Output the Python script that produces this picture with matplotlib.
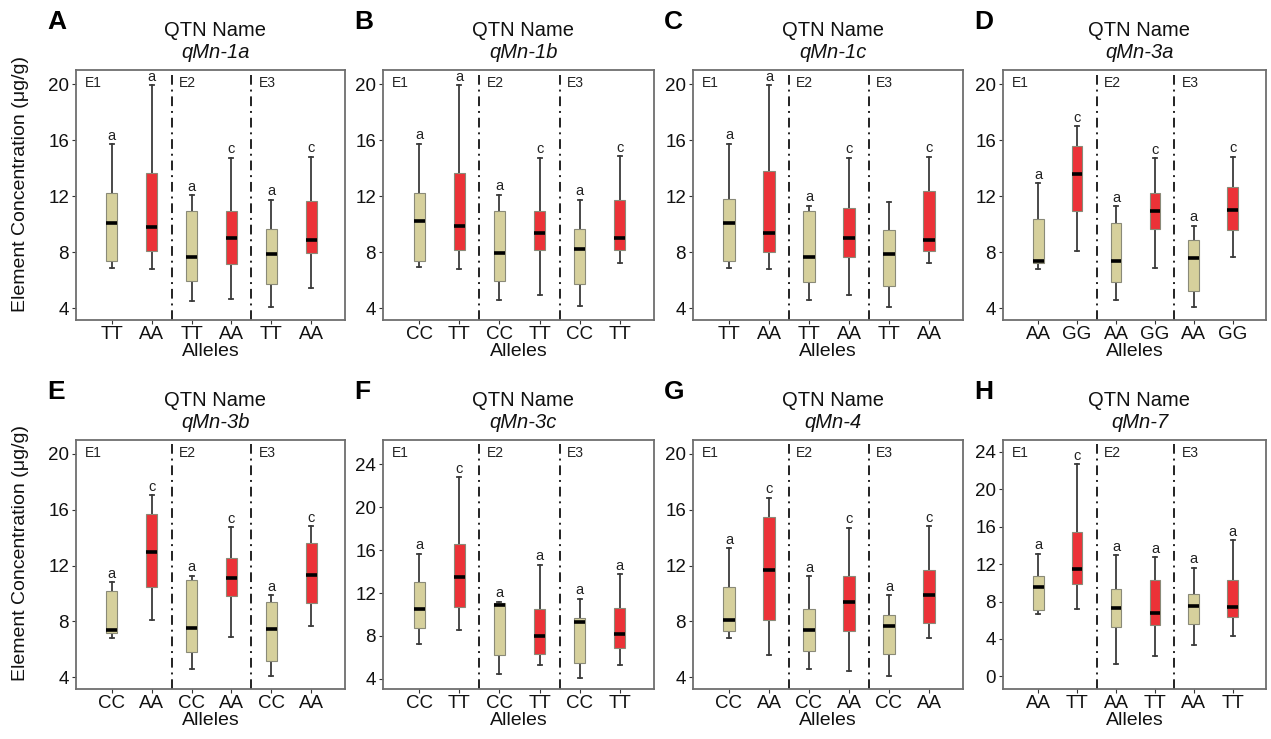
import matplotlib
matplotlib.use("Agg")
import matplotlib.pyplot as plt

plt.rcParams['font.family'] = ['Liberation Sans', 'DejaVu Sans']

# ---------------- data ----------------
panel_ids = ['A', 'B', 'C', 'D', 'E', 'F', 'G', 'H']
qtn_names = ['qMn-1a', 'qMn-1b', 'qMn-1c', 'qMn-3a',
             'qMn-3b', 'qMn-3c', 'qMn-4', 'qMn-7']
allele_pairs = [['TT', 'AA'], ['CC', 'TT'], ['TT', 'AA'], ['AA', 'GG'],
                ['CC', 'AA'], ['CC', 'TT'], ['CC', 'AA'], ['AA', 'TT']]
environments = ['E1', 'E2', 'E3']

# each box: (lower whisker, Q1, median, Q3, upper whisker), order E1a,E1b,E2a,E2b,E3a,E3b
stats_A = [(6.87, 7.35, 10.07, 12.2, 15.7), (6.78, 8.07, 9.79, 13.65, 19.9),
           (4.53, 5.9, 7.64, 10.9, 12.05), (4.65, 7.16, 8.97, 10.9, 14.75),
           (4.1, 5.7, 7.88, 9.62, 11.74), (5.44, 7.92, 8.88, 11.65, 14.8)]
stats_B = [(6.92, 7.35, 10.19, 12.2, 15.75), (6.8, 8.16, 9.83, 13.68, 19.9),
           (4.6, 5.9, 7.92, 10.93, 12.1), (4.9, 8.16, 9.38, 10.93, 14.75),
           (4.15, 5.73, 8.23, 9.67, 11.74), (7.2, 8.16, 9.02, 11.7, 14.84)]
stats_C = [(6.87, 7.35, 10.07, 11.8, 15.75), (6.78, 7.97, 9.36, 13.8, 19.9),
           (4.58, 5.85, 7.64, 10.9, 11.3), (4.9, 7.64, 8.97, 11.12, 14.75),
           (4.1, 5.56, 7.88, 9.55, 11.55), (7.2, 8.07, 8.88, 12.34, 14.8)]
stats_D = [(6.78, 7.23, 7.35, 10.33, 12.9), (8.11, 10.9, 13.6, 15.58, 17.0),
           (4.58, 5.85, 7.35, 10.1, 11.26), (6.87, 9.67, 10.93, 12.24, 14.7),
           (4.1, 5.25, 7.61, 8.88, 9.88), (7.68, 9.6, 11.03, 12.65, 14.8)]
stats_E = [(6.78, 7.16, 7.35, 10.14, 10.8), (8.11, 10.45, 12.94, 15.7, 17.04),
           (4.58, 5.78, 7.52, 10.98, 11.26), (6.87, 9.79, 11.1, 12.53, 14.75),
           (4.1, 5.13, 7.45, 9.36, 9.88), (7.68, 9.31, 11.29, 13.65, 14.84)]
stats_F = [(7.29, 8.7, 10.52, 13.03, 15.66), (8.55, 10.71, 13.53, 16.6, 22.8),
           (4.47, 6.19, 10.9, 11.05, 11.2), (5.25, 6.35, 8.0, 10.52, 14.66),
           (4.06, 5.5, 9.27, 9.7, 11.46), (5.32, 6.88, 8.14, 10.65, 13.78)]
stats_G = [(6.78, 7.33, 8.07, 10.45, 13.25), (5.61, 8.11, 11.7, 15.47, 16.87),
           (4.58, 5.9, 7.4, 8.88, 11.22), (4.46, 7.33, 9.36, 11.22, 14.7),
           (4.1, 5.68, 7.64, 8.42, 9.88), (6.78, 7.88, 9.86, 11.65, 14.8)]
stats_H = [(6.64, 7.1, 9.59, 10.72, 13.14), (7.24, 9.91, 11.5, 15.45, 22.72),
           (1.28, 5.33, 7.32, 9.3, 12.96), (2.2, 5.47, 6.82, 10.26, 12.75),
           (3.34, 5.58, 7.53, 8.77, 11.61), (4.33, 6.39, 7.42, 10.26, 14.56)]
all_stats = [stats_A, stats_B, stats_C, stats_D, stats_E, stats_F, stats_G, stats_H]

sig_A = ['a', 'a', 'a', 'c', 'a', 'c']
sig_B = ['a', 'a', 'a', 'c', 'a', 'c']
sig_C = ['a', 'a', 'a', 'c', '', 'c']
sig_D = ['a', 'c', 'a', 'c', 'a', 'c']
sig_E = ['a', 'c', 'a', 'c', 'a', 'c']
sig_F = ['a', 'c', 'a', 'a', 'a', 'a']
sig_G = ['a', 'c', 'a', 'c', 'a', 'c']
sig_H = ['a', 'c', 'a', 'a', 'a', 'a']
all_sig = [sig_A, sig_B, sig_C, sig_D, sig_E, sig_F, sig_G, sig_H]

y_limits = [(3.15, 21.0)] * 5 + [(3.06, 26.26), (3.15, 21.0), (-1.35, 25.28)]
y_ticks = [[4, 8, 12, 16, 20]] * 5 + [[4, 8, 12, 16, 20, 24], [4, 8, 12, 16, 20],
                                      [0, 4, 8, 12, 16, 20, 24]]

# ---------------- style ----------------
W, H = 1271, 739
fig = plt.figure(figsize=(W / 100, H / 100), dpi=100)
fig.patch.set_facecolor('white')

col_px = [(76, 345), (383, 654), (693, 963), (1003, 1266)]
row_px = [(70, 320), (440, 689)]

khaki = '#D6D09C'
red = '#EC3237'
edge = '#8A8A78'
spine_c = '#6E6E6E'

positions = [1, 2, 3, 4, 5, 6]

for i in range(8):
    r, c = divmod(i, 4)
    x0, x1 = col_px[c]
    y0, y1 = row_px[r]
    ax = fig.add_axes([x0 / W, 1 - y1 / H, (x1 - x0) / W, (y1 - y0) / H])

    bstats = []
    for (lo, q1, med, q3, hi) in all_stats[i]:
        bstats.append(dict(whislo=lo, q1=q1, med=med, q3=q3, whishi=hi, fliers=[]))
    bp = ax.bxp(bstats, positions=positions, widths=0.28, patch_artist=True,
                showfliers=False,
                boxprops=dict(edgecolor=edge, linewidth=0.8),
                whiskerprops=dict(color='#3a3a3a', linewidth=1.3),
                capprops=dict(color='#3a3a3a', linewidth=1.3),
                medianprops=dict(color='black', linewidth=2.6),
                capwidths=0.1)
    for k, patch in enumerate(bp['boxes']):
        patch.set_facecolor(khaki if k % 2 == 0 else red)
        patch.set_zorder(2)
    for ln in bp['whiskers'] + bp['caps']:
        ln.set_zorder(1)

    for k, s in enumerate(all_sig[i]):
        if s:
            ax.annotate(s, (positions[k], all_stats[i][k][4]), xytext=(0, 1),
                        textcoords='offset points', ha='center', va='bottom',
                        fontsize=10.5, color='#222222')

    for xd in (2.5, 4.5):
        ax.axvline(xd, color='#222222', linewidth=1.4, linestyle=(0, (5, 2.5, 1, 2.5)))

    for xe, e in zip((0.33, 2.68, 4.68), environments):
        ax.text(xe, 0.975, e, transform=ax.get_xaxis_transform(), ha='left', va='top',
                fontsize=10, color='#222222')

    ax.set_xlim(0.1, 6.85)
    ax.set_ylim(*y_limits[i])
    ax.set_yticks(y_ticks[i])
    ax.set_xticks(positions)
    ax.set_xticklabels(allele_pairs[i] * 3)
    ax.tick_params(axis='both', labelsize=13.5, colors='#333333', length=3,
                   width=0.8, labelcolor='#111111', pad=2)
    ax.tick_params(axis='x', labelsize=13.5, pad=1.5)
    for sp in ax.spines.values():
        sp.set_color(spine_c)
        sp.set_linewidth(1.3)
    ax.set_xlabel('Alleles', fontsize=14, labelpad=0, color='#111111')
    if c == 0:
        ax.set_ylabel('Element Concentration (μg/g)', fontsize=14, color='#111111')
        ax.yaxis.set_label_coords(-0.175, 0.545)

    cx = (x0 + x1) / 2 / W
    fig.text(cx + 5 / W, 1 - (y0 - 40) / H, 'QTN Name', ha='center', va='center',
             fontsize=14.5, color='#111111')
    fig.text(cx + 5 / W, 1 - (y0 - 17) / H, qtn_names[i], ha='center', va='center',
             fontsize=14.5, style='italic', color='#111111')
    fig.text((x0 - 29) / W, 1 - (y0 - 48) / H, panel_ids[i], ha='left', va='center',
             fontsize=19, fontweight='bold', color='black')

fig.savefig('out.png', dpi=100, facecolor='white')
